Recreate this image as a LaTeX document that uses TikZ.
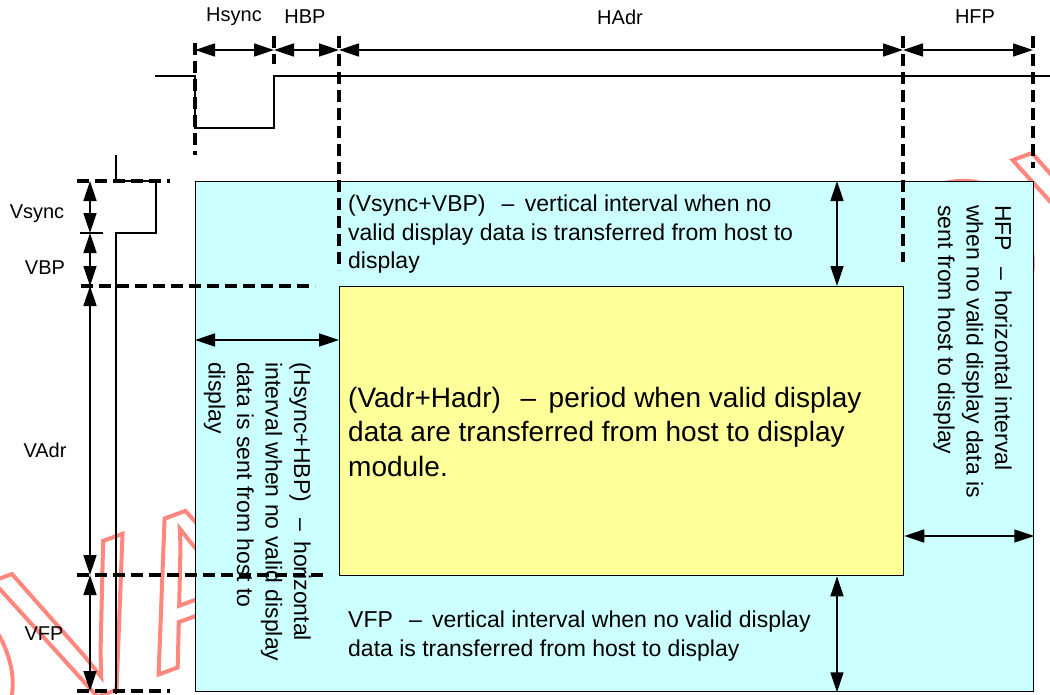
\documentclass[tikz,border=0pt]{standalone}
\usepackage{fontspec}
\setmainfont{Liberation Sans}
\usetikzlibrary{arrows.meta,calc}
\definecolor{cyanbox}{RGB}{204,255,255}
\definecolor{yellowbox}{RGB}{255,255,153}
\definecolor{wmred}{RGB}{255,135,125}
\newcommand{\dsh}{\hspace{0.7em}–\hspace{0.45em}}
\newcommand{\outlinetext}[1]{\special{pdf:code 1 Tr 4 w}#1\special{pdf:code 0 Tr}}
\begin{document}
\begin{tikzpicture}[x=1pt,y=-1pt,
  dim/.style={line width=1.5pt,{Triangle[length=20pt,width=13pt]}-{Triangle[length=20pt,width=13pt]}},
  guide/.style={line width=3.2pt,dash pattern=on 12pt off 6pt},
  wave/.style={line width=1.5pt},
  lbl/.style={font=\fontsize{20}{24}\selectfont,inner sep=0pt},
  body/.style={font=\fontsize{23}{28.5}\selectfont,align=left,inner sep=0pt},
  big/.style={font=\fontsize{28}{34.5}\selectfont,align=left,inner sep=0pt},
  wm/.style={font=\fontsize{210}{210}\selectfont,rotate=20,anchor=base west,inner sep=0pt,text=wmred},
  box/.style={draw,line width=1.3pt,anchor=north west,inner sep=0pt}]
\useasboundingbox (0,0) rectangle (1050,694);
\fill[white] (0,0) rectangle (1050,694);
% watermark
\begin{scope}
\clip (0,0) rectangle (1050,694);
\node[wm] (wmA) at (-255,825) {\outlinetext{NOVATEK}};
\node[wm] (wmB) at (765,404) {\outlinetext{NOVATEK}};
\end{scope}
% boxes
\node[box,fill=cyanbox,minimum width=838pt,minimum height=510pt] (outer) at (195,181) {};
\node[box,fill=yellowbox,minimum width=564pt,minimum height=289pt] (inner) at (339,286) {};
% horizontal sync waveform
\coordinate (hs0) at (155,76);
\coordinate (hs5) at (1050,76);
\draw[wave] (hs0) -- ++(40,0) -- ++(0,52) -- ++(79,0) -- ++(0,-52) -- (hs5);
% vertical sync waveform
\coordinate (vs0) at (116,155);
\coordinate (vs5) at (116,694);
\draw[wave] (vs0) -- ++(0,26) -- ++(40,0) -- ++(0,52) -- ++(-40,0) -- (vs5);
% guide lines
\coordinate (g1a) at (195,43);  \coordinate (g1b) at (195,155);
\coordinate (g2a) at (274,36);  \coordinate (g2b) at (274,64);
\coordinate (g3a) at (339,36);  \coordinate (g3b) at (339,270);
\coordinate (g4a) at (903,36);  \coordinate (g4b) at (903,262);
\coordinate (g5a) at (1033,36); \coordinate (g5b) at (1033,168);
\coordinate (h1a) at (77,181);  \coordinate (h1b) at (170,181);
\coordinate (h2a) at (81,286);  \coordinate (h2b) at (315,286);
\coordinate (h3a) at (77,575);  \coordinate (h3b) at (327,575);
\coordinate (h4a) at (77,691);  \coordinate (h4b) at (170,691);
\coordinate (tka) at (80,233);  \coordinate (tkb) at (103,233);
\foreach \s in {g1,g2,g3,g4,g5,h1,h2,h3,h4}{\draw[guide] (\s a) -- (\s b);}
\draw[wave] (tka) -- (tkb);
% top dimension arrows
\coordinate (t1) at (195,50); \coordinate (t2) at (274,50);
\coordinate (t3) at (339,50); \coordinate (t4) at (903,50);
\coordinate (t5) at (1033,50);
\draw[dim] (t1) -- (t2);
\draw[dim] (t2) -- (t3);
\draw[dim] (t3) -- (t4);
\draw[dim] (t4) -- (t5);
% left dimension arrows
\coordinate (v1) at (90,181); \coordinate (v2) at (90,233);
\coordinate (v3) at (90,286); \coordinate (v4) at (90,575);
\coordinate (v5) at (90,691);
\draw[dim] (v1) -- (v2);
\draw[dim] (v2) -- (v3);
\draw[dim] (v3) -- (v4);
\draw[dim] (v4) -- (v5);
% inner arrows
\draw[dim] (outer.west |- 0,340) -- (inner.west |- 0,340);
\draw[dim] (outer.north -| 837,0) -- (inner.north -| 837,0);
\draw[dim] (inner.south -| 837,0) -- (outer.south -| 837,0);
\draw[dim] (inner.east |- 0,536) -- (outer.east |- 0,536);
% labels
\node[lbl] (lHs) at (234,17) {Hsync};
\node[lbl] (lHb) at (305,17) {HBP};
\node[lbl] (lHa) at (620,17) {HAdr};
\node[lbl] (lHf) at (975,17) {HFP};
\node[lbl] (lVs) at (37,214) {Vsync};
\node[lbl] (lVb) at (45,268) {VBP};
\node[lbl] (lVa) at (45,450) {VAdr};
\node[lbl] (lVf) at (44,634) {VFP};
% texts
\node[body,anchor=north west] (tvs) at (348,195)
  {(Vsync+VBP)\dsh vertical interval when no\\valid display data is transferred from host to\\display};
\node[big,anchor=north west] (tmain) at (348,387)
  {(Vadr+Hadr)\dsh period when valid display\\data are transferred from host to display\\module.};
\node[body,anchor=north west] (tvf) at (348,611)
  {VFP\dsh vertical interval when no valid display\\data is transferred from host to display};
\node[body,rotate=-90,anchor=north west] (ths) at (311,362)
  {(Hsync+HBP)\dsh horizontal\\interval when no valid display\\data is sent from host to\\display};
\node[body,rotate=-90,anchor=north west] (thf) at (1012,205)
  {HFP\dsh horizontal interval\\when no valid display data is\\sent from host to display};
\end{tikzpicture}
\end{document}
